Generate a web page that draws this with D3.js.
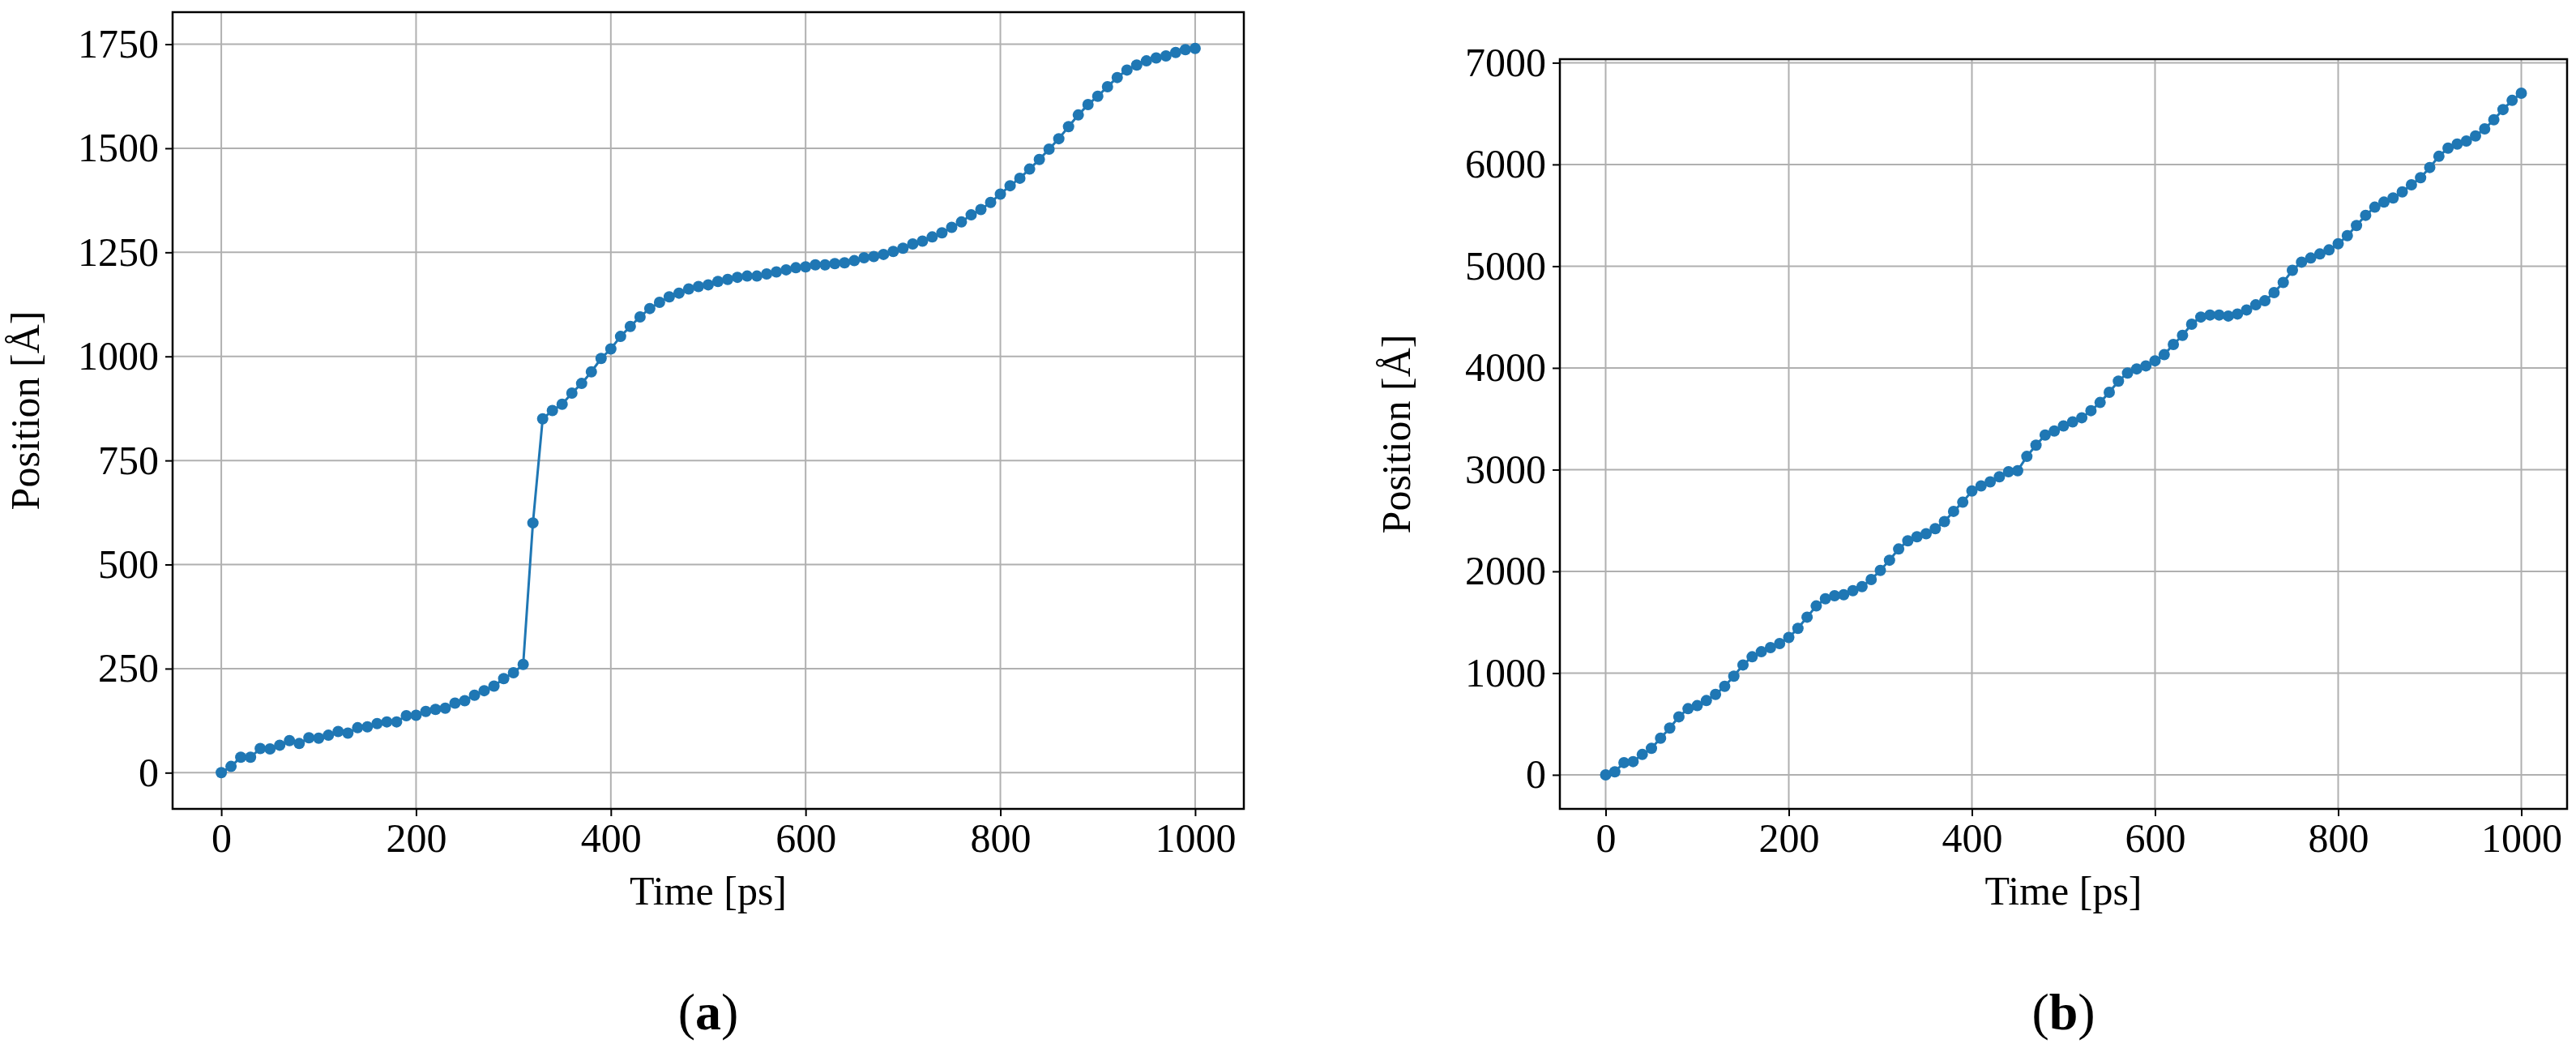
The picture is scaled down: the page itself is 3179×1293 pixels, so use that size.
<!DOCTYPE html>
<html><head><meta charset="utf-8">
<script src="https://cdn.jsdelivr.net/npm/d3@7"></script>
<style>body{margin:0;background:#fff}text{font-family:"Liberation Serif","DejaVu Serif",serif}</style>
</head><body>
<script>
const W = 3179, H = 1293;

const times = d3.range(0, 1001, 10);
const posA = [0,15,37,37,58,57,66,77,70,84,83,90,99,95,108,110,118,122,122,137,138,147,152,155,167,173,186,197,208,226,240,260,600,850,870,885,912,935,963,995,1018,1048,1072,1095,1115,1130,1143,1152,1162,1168,1172,1180,1185,1190,1193,1193,1198,1203,1208,1213,1215,1220,1220,1223,1225,1230,1237,1240,1245,1252,1260,1270,1277,1287,1297,1310,1323,1340,1353,1370,1390,1410,1428,1450,1473,1498,1523,1552,1580,1605,1625,1648,1670,1688,1700,1710,1717,1722,1730,1737,1740];
const posB = [0,30,120,130,200,260,360,460,570,650,680,730,790,870,970,1080,1160,1210,1250,1290,1350,1440,1550,1660,1730,1760,1770,1810,1850,1920,2010,2110,2220,2300,2340,2370,2420,2490,2590,2680,2790,2840,2880,2930,2980,2990,3130,3240,3340,3380,3430,3470,3510,3580,3660,3760,3870,3950,3990,4020,4070,4130,4230,4320,4430,4500,4520,4520,4510,4530,4570,4620,4660,4740,4840,4960,5040,5080,5120,5160,5220,5300,5400,5500,5580,5630,5670,5730,5800,5870,5970,6080,6160,6200,6230,6280,6350,6440,6540,6630,6700];
const xTicks = [0,200,400,600,800,1000];
const yTicksA = [0,250,500,750,1000,1250,1500,1750];
const yTicksB = [0,1000,2000,3000,4000,5000,6000,7000];

const svg = d3.select('body').append('svg').attr('width', W).attr('height', H);

function panel(box, values, yDomain, yTicks, tag, labelX) {
  const x = d3.scaleLinear().domain([-50, 1050]).range([box.l, box.r]);
  const y = d3.scaleLinear().domain(yDomain).range([box.b, box.t]);
  const g = svg.append('g');

  // grid
  g.selectAll('.gx').data(xTicks).enter().append('line')
    .attr('x1', d => x(d)).attr('x2', d => x(d)).attr('y1', box.t).attr('y2', box.b)
    .attr('stroke', '#b0b0b0').attr('stroke-width', 2);
  g.selectAll('.gy').data(yTicks).enter().append('line')
    .attr('y1', d => y(d)).attr('y2', d => y(d)).attr('x1', box.l).attr('x2', box.r)
    .attr('stroke', '#b0b0b0').attr('stroke-width', 2);

  const xAxis = d3.axisBottom(x).tickValues(xTicks).tickSize(9).tickPadding(8).tickFormat(d3.format('d'));
  const yAxis = d3.axisLeft(y).tickValues(yTicks).tickSize(9).tickPadding(8).tickFormat(d3.format('d'));
  const ax = g.append('g').attr('transform', `translate(0,${box.b})`).call(xAxis);
  const ay = g.append('g').attr('transform', `translate(${box.l},0)`).call(yAxis);
  [ax, ay].forEach(a => {
    a.select('.domain').remove();
    a.selectAll('line').attr('stroke', '#000').attr('stroke-width', 2);
    a.selectAll('text').attr('font-size', 50).attr('fill', '#000')
      .attr('font-family', '"Liberation Serif", serif');
  });

  const line = d3.line().x((d, i) => x(times[i])).y(d => y(d));
  g.append('path').datum(values).attr('d', line)
    .attr('fill', 'none').attr('stroke', '#1f77b4').attr('stroke-width', 3);
  g.selectAll('circle').data(values).enter().append('circle')
    .attr('cx', (d, i) => x(times[i])).attr('cy', d => y(d)).attr('r', 7)
    .attr('fill', '#1f77b4');

  g.append('rect').attr('x', box.l).attr('y', box.t)
    .attr('width', box.r - box.l).attr('height', box.b - box.t)
    .attr('fill', 'none').attr('stroke', '#000').attr('stroke-width', 2.5);

  g.append('text').attr('x', (box.l + box.r) / 2).attr('y', box.b + 118)
    .attr('text-anchor', 'middle').attr('font-size', 50).text('Time [ps]');
  g.append('text').attr('transform', `translate(${labelX},${(box.t + box.b) / 2}) rotate(-90)`)
    .attr('text-anchor', 'middle').attr('font-size', 50).text('Position [Å]');

  const cap = g.append('text').attr('x', (box.l + box.r) / 2).attr('y', 1270)
    .attr('text-anchor', 'middle').attr('font-size', 64);
  cap.append('tspan').text('(');
  cap.append('tspan').attr('font-weight', 'bold').text(tag);
  cap.append('tspan').text(')');
}

panel({l: 213, r: 1535, t: 15, b: 998}, posA, [-87, 1827], yTicksA, 'a', 48);
panel({l: 1925, r: 3168, t: 73, b: 998}, posB, [-335, 7035], yTicksB, 'b', 1740);
</script>
</body></html>
